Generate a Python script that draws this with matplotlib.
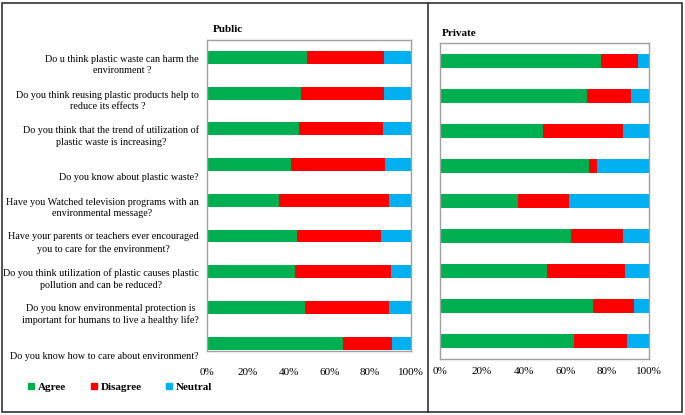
import matplotlib.pyplot as plt
import matplotlib.patches as patches
import matplotlib.transforms as mtransforms
from matplotlib.lines import Line2D

plt.rcParams['font.family'] = ['Liberation Serif', 'DejaVu Serif']

questions = [
    "Do u think plastic waste can harm the\nenvironment ?",
    "Do you think reusing plastic products help to\nreduce its effects ?",
    "Do you think that the trend of utilization of\nplastic waste is increasing?",
    "Do you know about plastic waste?",
    "Have you Watched television programs with an\nenvironmental message?",
    "Have your parents or teachers ever encouraged\nyou to care for the environment?",
    "Do you think utilization of plastic causes plastic\npollution and can be reduced?",
    "Do you know environmental protection is\nimportant for humans to live a healthy life?",
    "Do you know how to care about environment?",
]

# percentages, top question first
public_agree = [48.8, 46.3, 45.2, 41.2, 35.2, 44.0, 43.2, 48.0, 66.8]
public_disagree = [37.9, 40.4, 40.9, 46.2, 54.2, 41.3, 47.0, 41.4, 24.0]
public_neutral = [13.3, 13.3, 13.9, 12.6, 10.6, 14.7, 9.8, 10.6, 9.2]

private_agree = [76.8, 70.5, 49.4, 71.5, 37.4, 62.7, 51.4, 73.4, 64.0]
private_disagree = [17.8, 20.9, 38.0, 3.5, 24.5, 24.7, 37.3, 19.3, 25.3]
private_neutral = [5.4, 8.6, 12.6, 25.0, 38.1, 12.6, 11.3, 7.3, 10.7]

colors = ['#00B050', '#FF0000', '#00B0F0']
series_names = ['Agree', 'Disagree', 'Neutral']
ticks = [0, 20, 40, 60, 80, 100]

W, H = 685, 415
fig = plt.figure(figsize=(W / 100, H / 100), dpi=100)


def px_axes(l, t, r, b):
    return fig.add_axes([l / W, 1 - b / H, (r - l) / W, (b - t) / H])


def draw_panel(ax, data, height, ylim, pad):
    y = list(range(len(questions)))
    left = [0] * len(y)
    for vals, c in zip(data, colors):
        ax.barh(y, vals, left=left, height=height, color=c, edgecolor='none')
        left = [a + b for a, b in zip(left, vals)]
    ax.set_xlim(0, 100)
    ax.set_ylim(*ylim)
    ax.set_yticks([])
    ax.set_xticks(ticks)
    ax.set_xticklabels([f"{t}%" for t in ticks], fontsize=8)
    ax.tick_params(axis='x', length=0, pad=pad)
    for s in ax.spines.values():
        s.set_color('#A0A0A0')
        s.set_linewidth(1)


ax1 = px_axes(207, 40, 411, 351)
draw_panel(ax1, [public_agree, public_disagree, public_neutral], 0.36, (8.22, -0.49), 12)

trans = mtransforms.blended_transform_factory(ax1.transAxes, ax1.transData)
for i, q in enumerate(questions):
    ax1.text(-0.04, i + 0.5, q, transform=trans, ha='right', va='bottom',
             multialignment='center', fontsize=7.3, linespacing=1.35)

ax2 = px_axes(440, 43, 649, 359)
draw_panel(ax2, [private_agree, private_disagree, private_neutral], 0.4, (8.5, -0.5), 6)

fig.text(213 / W, 1 - 30 / H, "Public", fontsize=8, fontweight='bold', va='center')
fig.text(442 / W, 1 - 33 / H, "Private", fontsize=8, fontweight='bold', va='center')

# boxes around both panels
fig.patches.append(patches.Rectangle((2 / W, 1 - 412 / H), 680 / W, 409 / H,
                                     transform=fig.transFigure, fill=False,
                                     edgecolor='#333333', linewidth=1.2))
fig.lines.append(Line2D([428 / W, 428 / W], [1 - 412 / H, 1 - 3 / H],
                        transform=fig.transFigure, color='#333333', linewidth=1.2))

handles = [Line2D([], [], marker='s', linestyle='none', color=c, markersize=5)
           for c in colors]
leg = fig.legend(handles, series_names, loc='center left',
                 bbox_to_anchor=(18 / W, 1 - 387 / H), ncol=3, frameon=False,
                 handlelength=0.6, handletextpad=0.3, columnspacing=2.2,
                 prop={'weight': 'bold', 'size': 8})

fig.savefig('out.png', dpi=100)
